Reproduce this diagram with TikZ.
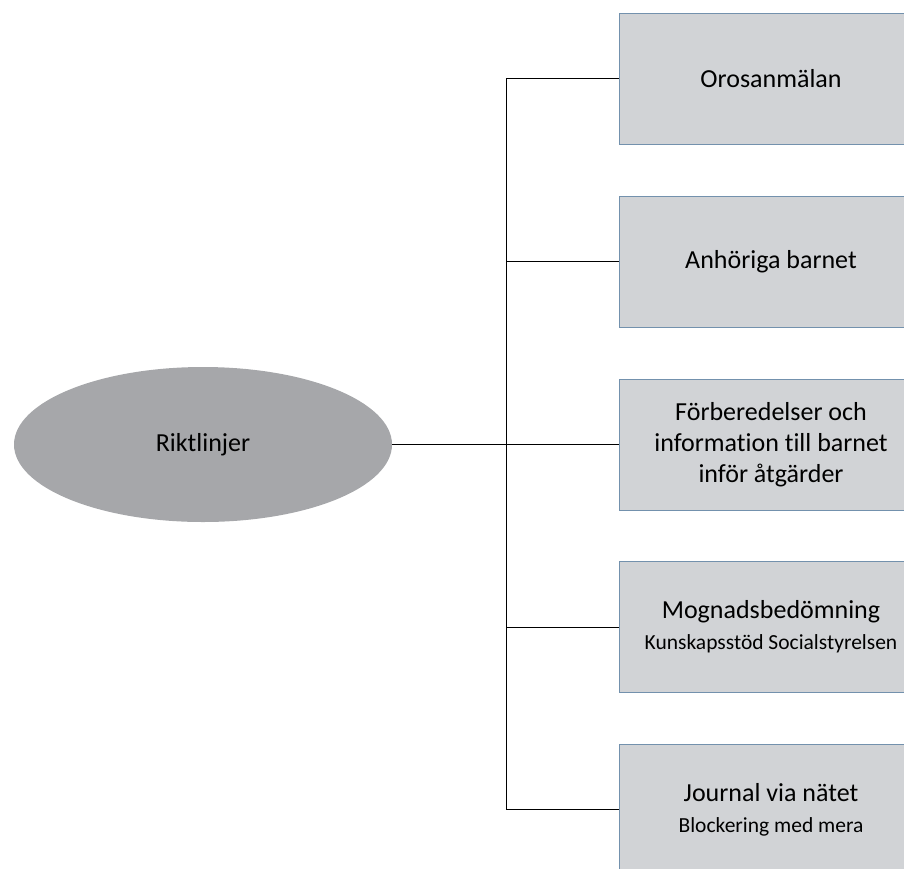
\documentclass[tikz,border=0pt]{standalone}
\usepackage{fontspec}
\setmainfont{Carlito}[Ligatures=NoCommon]
\usetikzlibrary{shapes.geometric}
\definecolor{boxfill}{HTML}{D1D3D6}
\definecolor{boxline}{HTML}{7391AD}
\definecolor{ovalfill}{HTML}{A6A7AA}
\begin{document}
\begin{tikzpicture}[x=1pt,y=-1pt]
  \tikzset{block/.style={shape=rectangle,text centered,align=center,fill=boxfill,draw=boxline,line width=1pt,
      minimum width=304pt,minimum height=131pt,inner sep=0pt,font=\fontsize{26}{31}\selectfont},
    link/.style={draw=black,line width=1pt}};
  \useasboundingbox (0,0) rectangle (904,868);
  \node[shape=ellipse,fill=ovalfill,minimum width=378pt,minimum height=155pt,inner sep=0pt,
    font=\fontsize{26}{31}\selectfont](Rikt) at (203,444.5){Riktlinjer};
  \node[block](Oro) at (771,78.5){Orosanmälan};
  \node[block](Anh) at (771,261.5){Anhöriga barnet};
  \node[block](Forb) at (771,444.5){Förberedelser och\\information till barnet\\inför åtgärder};
  \node[block](Mogn) at (771,627){Mognadsbedömning\\\fontsize{21.5}{28}\selectfont Kunskapsstöd Socialstyrelsen};
  \node[block](Jour) at (771,809.5){Journal via nätet\\\fontsize{21.5}{27}\selectfont Blockering med mera};
  \coordinate (Top) at (506,78.5);
  \coordinate (Bot) at (506,809.5);
  \draw[link] (Rikt.east) -- (Forb.west);
  \draw[link] (Top) -- (Bot);
  \draw[link] (Top) -- (Oro.west) (Top|-Anh) -- (Anh.west) (Top|-Mogn) -- (Mogn.west) (Bot) -- (Jour.west);
\end{tikzpicture}
\end{document}
